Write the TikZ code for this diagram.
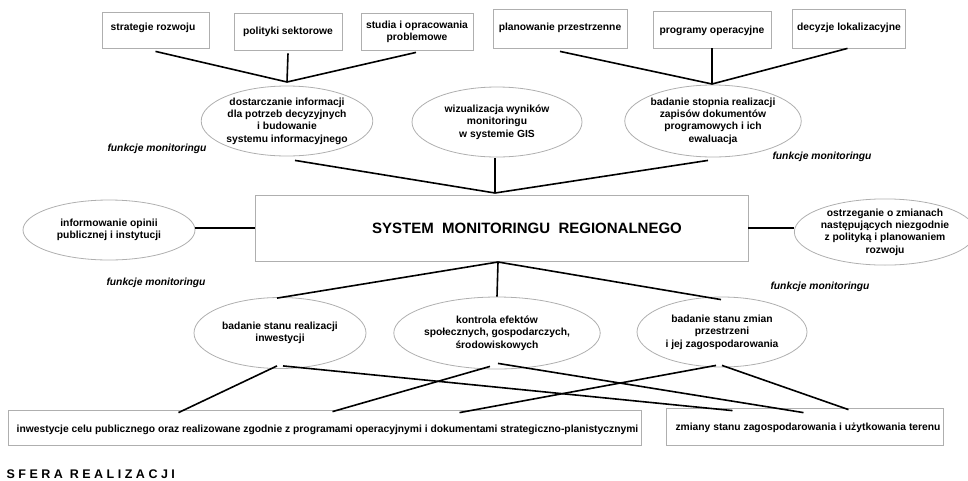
\documentclass[tikz,border=0pt]{standalone}
\usepackage{fontspec}
\setmainfont{Liberation Sans}
\usetikzlibrary{shapes.geometric}
\definecolor{edgegray}{RGB}{175,175,175}
\tikzset{
  every node/.style={font=\fontsize{10.3}{12.4}\selectfont\bfseries, align=center},
  topbox/.style={draw=edgegray, line width=0.8pt, rectangle, inner sep=0pt},
  oval/.style={draw=edgegray, line width=0.8pt, ellipse, inner sep=0pt, minimum width=170pt, minimum height=70pt},
  conn/.style={line width=1.6pt, black},
  funk/.style={font=\fontsize{10.3}{12.4}\selectfont\bfseries\itshape},
}
\begin{document}
\begin{tikzpicture}[x=1pt, y=-1pt]
\useasboundingbox (0,0) rectangle (968,480);
% top boxes
\node[topbox, minimum width=107pt, minimum height=36pt] (b1) at (155.5,30) {};
\node at (153,28) {strategie rozwoju};
\node[topbox, minimum width=108pt, minimum height=37pt] (b2) at (288,31.5) {};
\node at (288,32) {polityki sektorowe};
\node[topbox, minimum width=112pt, minimum height=37pt] (b3) at (417,31.5) {};
\node at (417,32) {studia i opracowania\\problemowe};
\node[topbox, minimum width=134pt, minimum height=39pt] (b4) at (560,28.5) {};
\node at (560,28) {planowanie przestrzenne};
\node[topbox, minimum width=118pt, minimum height=37pt] (b5) at (712,29.5) {};
\node at (712,31) {programy operacyjne};
\node[topbox, minimum width=113pt, minimum height=39pt] (b6) at (848.5,28.5) {};
\node at (849,28) {decyzje lokalizacyjne};
% top ellipses
\node[oval] (e1) at (287,121) {dostarczanie informacji\\dla potrzeb decyzyjnych\\i budowanie\\systemu informacyjnego};
\node[oval] (e2) at (497,122) {wizualizacja wyników\\monitoringu\\w systemie GIS};
\node[oval, minimum height=72pt] (e3) at (713,121) {badanie stopnia realizacji\\zapisów dokumentów\\programowych i ich\\ewaluacja};
\coordinate (j1) at (287,82);
\coordinate (j2) at (712,84);
\draw[conn] ([yshift=-3pt]b1.south) -- (j1);
\draw[conn] ([yshift=-3pt]b2.south) -- (j1);
\draw[conn] ([xshift=-1pt,yshift=-2pt]b3.south) -- (j1);
\draw[conn] ([yshift=-3pt]b4.south) -- (j2);
\draw[conn] (b5.south) -- (j2);
\draw[conn] ([xshift=-1pt]b6.south) -- (j2);
% central box
\node[topbox, minimum width=493pt, minimum height=66pt] (C) at (501.5,228) {};
\node[font=\fontsize{15}{18}\selectfont\bfseries] (title) at (527,228) {SYSTEM\ \ MONITORINGU\ \ REGIONALNEGO};
\coordinate (j3) at (495,193);
\draw[conn] ([xshift=8pt,yshift=-4pt]e1.south) -- (j3);
\draw[conn] ([xshift=-2pt,yshift=-1pt]e2.south) -- (j3);
\draw[conn] ([xshift=-5pt,yshift=-3pt]e3.south) -- (j3);
% side ellipses
\node[oval, minimum width=172pt, minimum height=60pt] (L) at (109,230) {informowanie opinii\\publicznej i instytucji};
\node[oval, minimum width=164pt, minimum height=58pt] (R) at (885,232) {ostrzeganie o zmianach\\następujących niezgodnie\\z polityką i planowaniem\\rozwoju};
\draw[conn] (C.west) -- (C.west -| L.east);
\draw[conn] (C.east) -- (C.east -| R.west);
% bottom ellipses
\node[oval, minimum width=172pt, minimum height=71pt] (e4) at (280,333) {badanie stanu realizacji\\inwestycji};
\node[oval, minimum width=170pt, minimum height=72pt] (e5) at (497,333) {kontrola efektów\\społecznych, gospodarczych,\\środowiskowych};
\node[oval, minimum width=170pt, minimum height=70pt] (e6) at (722,332) {badanie stanu zmian\\przestrzeni\\i jej zagospodarowania};
\coordinate (j4) at (498,262);
\draw[conn] (j4) -- ([xshift=-3pt,yshift=-1pt]e4.north);
\draw[conn] (j4) -- (e5.north);
\draw[conn] (j4) -- ([xshift=-1pt,yshift=-3pt]e6.north);
% bottom boxes
\node[topbox, minimum width=633pt, minimum height=35pt] (B1) at (324.5,427.5) {};
\node at (327.5,430) {inwestycje celu publicznego oraz realizowane zgodnie z programami operacyjnymi i dokumentami strategiczno-planistycznymi};
\node[topbox, minimum width=277pt, minimum height=37pt] (B2) at (804.5,426.5) {};
\node at (808,428) {zmiany stanu zagospodarowania i użytkowania terenu};
\draw[conn] ([xshift=-3pt,yshift=3pt]e4.south) -- ([xshift=-146pt,yshift=-3pt]B1.north);
\draw[conn] ([xshift=3pt,yshift=3pt]e4.south) -- ([xshift=-72pt,yshift=-3pt]B2.north);
\draw[conn] ([xshift=-7pt,yshift=3pt]e5.south) -- ([xshift=8pt,yshift=-2pt]B1.north);
\draw[conn] ([xshift=1pt,yshift=6pt]e5.south) -- ([xshift=-1pt,yshift=-5pt]B2.north);
\draw[conn] ([xshift=-6pt,yshift=2pt]e6.south) -- ([xshift=135pt,yshift=-3pt]B1.north);
\draw[conn] ([yshift=2pt]e6.south) -- ([xshift=44pt,yshift=-2pt]B2.north);
% labels
\node[funk] (f1) at (157,149) {funkcje monitoringu};
\node[funk] (f2) at (822,157) {funkcje monitoringu};
\node[funk] (f3) at (156,283) {funkcje monitoringu};
\node[funk] (f4) at (820,287) {funkcje monitoringu};
\node[anchor=west, font=\fontsize{12.5}{15}\selectfont\bfseries\addfontfeature{LetterSpace=28}] (sfera) at (3,474) {SFERA REALIZACJI};
\end{tikzpicture}
\end{document}
